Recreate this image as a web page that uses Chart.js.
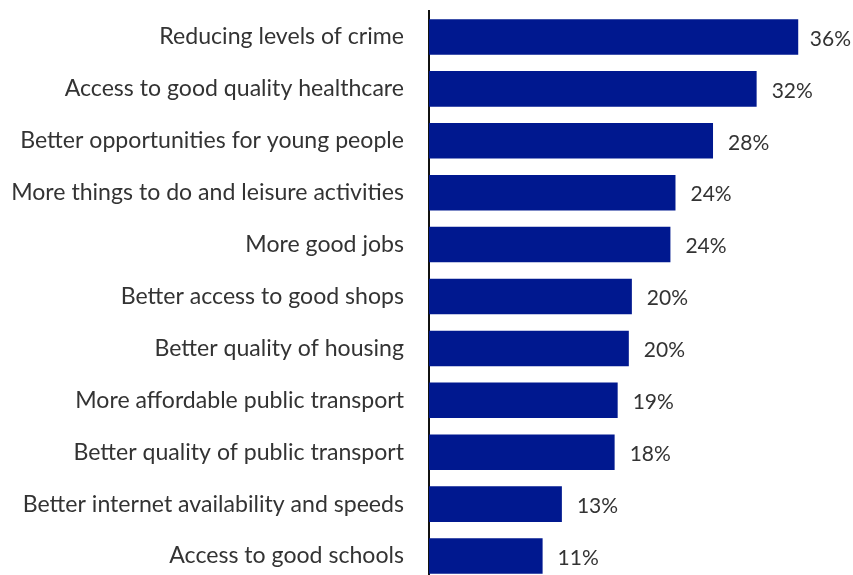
<!DOCTYPE html>
<html>
<head>
<meta charset="utf-8">
<script src="https://cdn.jsdelivr.net/npm/chart.js@4"></script>
<style>
  html, body { margin: 0; padding: 0; background: #fff; overflow: hidden; }
</style>
</head>
<body>
<canvas id="chart" width="853" height="582"></canvas>
<script>
// categories, top to bottom
const categories = [
  "Reducing levels of crime",
  "Access to good quality healthcare",
  "Better opportunities for young people",
  "More things to do and leisure activities",
  "More good jobs",
  "Better access to good shops",
  "Better quality of housing",
  "More affordable public transport",
  "Better quality of public transport",
  "Better internet availability and speeds",
  "Access to good schools"
];
// share of respondents (%)
const shares = [36.4, 32.3, 28.0, 24.3, 23.8, 20.0, 19.7, 18.6, 18.3, 13.1, 11.2];
// printed labels
const shareLabels = ["36%", "32%", "28%", "24%", "24%", "20%", "20%", "19%", "18%", "13%", "11%"];

const fontFamily = "Lato, 'Open Sans', sans-serif";

// writes the % next to each bar end
const valueLabels = {
  id: 'valueLabels',
  afterDatasetsDraw(chart) {
    const ctx = chart.ctx;
    const meta = chart.getDatasetMeta(0);
    ctx.save();
    ctx.font = "400 21px " + fontFamily;
    ctx.fillStyle = '#333';
    ctx.textBaseline = 'middle';
    ctx.textAlign = 'left';
    meta.data.forEach(function(bar, i) {
      let txt = shareLabels[i];
      let w = ctx.measureText(txt).width;
      let x = bar.x + 15;
      if (x + w > chart.width - 2) x = chart.width - 2 - w;
      ctx.fillText(txt, x, bar.y + 2);
    });
    ctx.restore();
  }
};

let ctx = document.getElementById('chart').getContext('2d');
let chart = new Chart(ctx, {
  type: 'bar',
  data: {
    labels: categories,
    datasets: [{
      data: shares,
      backgroundColor: '#00188f',
      borderWidth: 0,
      barPercentage: 0.685,
      categoryPercentage: 1
    }]
  },
  options: {
    indexAxis: 'y',
    responsive: false,
    animation: false,
    layout: { padding: { top: 11, bottom: 0, left: 0, right: 0 } },
    plugins: {
      legend: { display: false },
      tooltip: { enabled: false }
    },
    scales: {
      x: {
        display: false,
        min: 0,
        max: 41.8
      },
      y: {
        afterFit: function(scale) {
          scale.width = 429;
          scale.paddingTop = 0;
          scale.paddingBottom = 0;
        },
        grid: { display: false, drawTicks: false },
        border: { display: true, color: '#111', width: 2 },
        ticks: {
          padding: 25,
          color: '#333',
          font: { family: fontFamily, size: 23.1, weight: '400' }
        }
      }
    }
  },
  plugins: [valueLabels]
});
</script>
</body>
</html>
